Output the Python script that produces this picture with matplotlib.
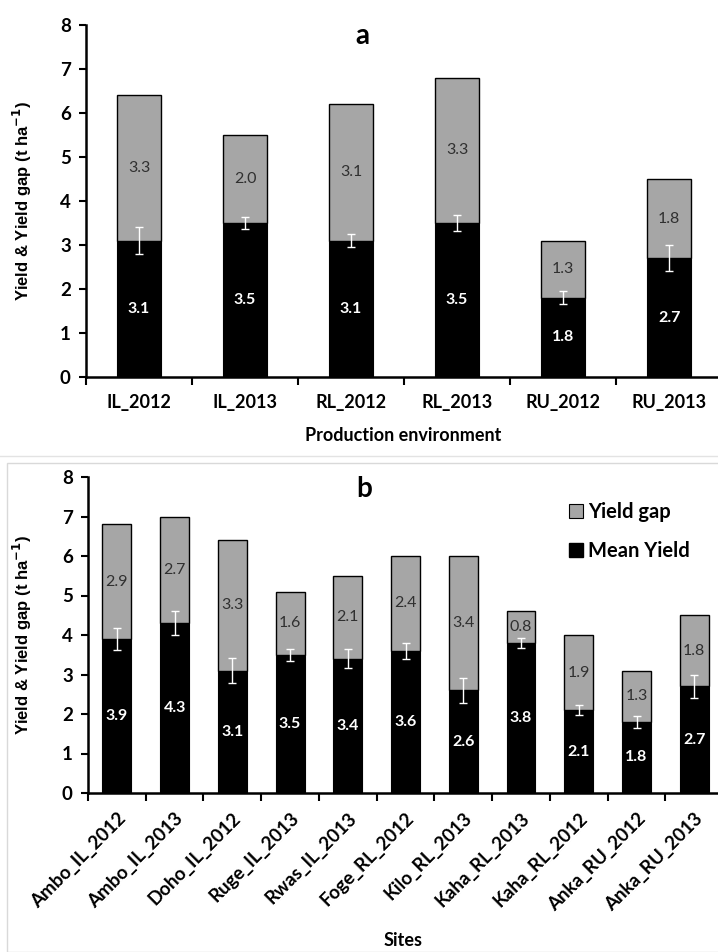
import matplotlib
matplotlib.use("Agg")
import matplotlib.pyplot as plt
from matplotlib.patches import Rectangle, Patch
from matplotlib.lines import Line2D
import numpy as np

# ---- data ----
env_labels = ["IL_2012", "IL_2013", "RL_2012", "RL_2013", "RU_2012", "RU_2013"]
env_mean = [3.1, 3.5, 3.1, 3.5, 1.8, 2.7]
env_gap = [3.3, 2.0, 3.1, 3.3, 1.3, 1.8]
env_err = [0.31, 0.14, 0.14, 0.18, 0.15, 0.29]

site_labels = ["Ambo_IL_2012", "Ambo_IL_2013", "Doho_IL_2012", "Ruge_IL_2013",
               "Rwas_IL_2013", "Foge_RL_2012", "Kilo_RL_2013", "Kaha_RL_2013",
               "Kaha_RL_2012", "Anka_RU_2012", "Anka_RU_2013"]
site_mean = [3.9, 4.3, 3.1, 3.5, 3.4, 3.6, 2.6, 3.8, 2.1, 1.8, 2.7]
site_gap = [2.9, 2.7, 3.3, 1.6, 2.1, 2.4, 3.4, 0.8, 1.9, 1.3, 1.8]
site_err = [0.28, 0.31, 0.32, 0.15, 0.24, 0.21, 0.31, 0.12, 0.13, 0.15, 0.29]

yticks = [0, 1, 2, 3, 4, 5, 6, 7, 8]

FONT = ["Lato", "DejaVu Sans"]
plt.rcParams['font.family'] = FONT

W, H = 718, 952
fig = plt.figure(figsize=(W / 100, H / 100), dpi=100)

GAP_COLOR = "#a6a6a6"


def fx(px):
    return px / W


def fy(py):
    return 1 - py / H


def draw_panel(ax, labels, mean, gap, err, width, rot):
    n = len(labels)
    x = np.arange(n)
    ax.bar(x, mean, width=width, color="black", edgecolor="black", linewidth=0.8, zorder=2)
    ax.bar(x, gap, bottom=mean, width=width, color=GAP_COLOR, edgecolor="black",
           linewidth=1.0, zorder=2)
    ax.errorbar(x, mean, yerr=err, fmt="none", ecolor="white", elinewidth=1.0,
                capsize=3, capthick=1.0, zorder=3)
    for xi, m, g in zip(x, mean, gap):
        ax.text(xi, m / 2, f"{m:.1f}", ha="center", va="center", color="white",
                fontsize=11.5, fontweight="bold", zorder=4)
        ax.text(xi, m + g / 2, f"{g:.1f}", ha="center", va="center", color="#303030",
                fontsize=11.5, zorder=4)
    ax.set_ylim(0, 8)
    ax.set_yticks(yticks)
    ax.set_yticklabels([str(t) for t in yticks], fontsize=13.5, fontweight="bold")
    ax.set_xlim(-0.5, n - 0.5)
    ax.set_xticks(np.arange(n + 1) - 0.5, minor=False)
    ax.set_xticklabels([])
    ax.set_xticks(x, minor=True)
    if rot:
        ax.set_xticklabels(labels, minor=True, rotation=45, ha="right",
                           rotation_mode="anchor", fontsize=13.5, fontweight="bold")
    else:
        ax.set_xticklabels(labels, minor=True, fontsize=13, fontweight="bold")
    ax.tick_params(axis="x", which="minor", length=0, pad=12)
    ax.tick_params(axis="x", which="major", length=6, width=1.5, direction="out")
    ax.tick_params(axis="y", length=5, width=1.5, direction="out", pad=6)
    for s in ["top", "right"]:
        ax.spines[s].set_visible(False)
    for s in ["left", "bottom"]:
        ax.spines[s].set_linewidth(1.8)
    ax.set_facecolor("none")
    ax.set_ylabel("Yield & Yield gap (t ha$^{\\mathbf{-1}}$)", fontsize=12,
                  fontweight="bold", family=["Liberation Sans", "DejaVu Sans"])


# Panel a
axa = fig.add_axes([fx(86), fy(377), fx(720) - fx(86), fy(25) - fy(377)])
draw_panel(axa, env_labels, env_mean, env_gap, env_err, 0.41, False)
axa.set_xlim(-0.5, 5.48)
axa.yaxis.set_label_coords(-(86 - 34) / (720 - 86), 0.5)
fig.text(fx(362), fy(36), "a", ha="center", va="center", fontsize=20, fontweight="bold")
fig.text(fx(403), fy(436), "Production environment", ha="center", va="center",
         fontsize=13, fontweight="bold")

# separator and panel b frame
fig.add_artist(Line2D([0, 1], [fy(456), fy(456)], color="#e3e3e3", linewidth=1.0))
fig.add_artist(Rectangle((fx(7), 0), 1.0, fy(463), fill=False, edgecolor="#d9d9d9",
                         linewidth=1.0))

# Panel b
axb = fig.add_axes([fx(88), fy(793), fx(722) - fx(88), fy(477) - fy(793)])
draw_panel(axb, site_labels, site_mean, site_gap, site_err, 0.5, True)
axb.set_xlim(-0.5, 10.48)
axb.yaxis.set_label_coords(-(88 - 34) / (722 - 88), 0.5)
fig.text(fx(364), fy(489), "b", ha="center", va="center", fontsize=20, fontweight="bold")
fig.text(fx(403), fy(940), "Sites", ha="center", va="center", fontsize=13,
         fontweight="bold")

handles = [Patch(facecolor=GAP_COLOR, edgecolor="black", linewidth=0.8, label="Yield gap"),
           Patch(facecolor="black", edgecolor="black", label="Mean Yield")]
fig.legend(handles=handles, loc="upper left", bbox_to_anchor=(fx(561), fy(494)),
           frameon=False, handlelength=0.7, handleheight=0.7,
           handletextpad=0.25, labelspacing=0.95, borderaxespad=0,
           prop={"size": 14.5, "weight": "bold"})

fig.savefig("out.png", dpi=100)
